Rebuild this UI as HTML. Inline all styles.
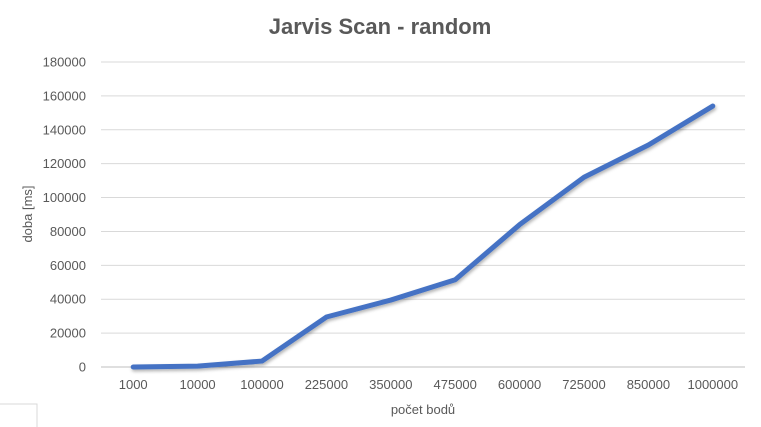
<!DOCTYPE html>
<html><head><meta charset="utf-8"><style>
html,body{margin:0;padding:0;background:#fff;width:761px;height:427px;overflow:hidden;font-family:"Liberation Sans",sans-serif;}
</style></head><body>
<svg id="chart" width="761" height="427" xmlns="http://www.w3.org/2000/svg">
<defs><filter id="sh" x="-5%" y="-5%" width="110%" height="120%"><feDropShadow dx="1" dy="2" stdDeviation="1.5" flood-color="#000" flood-opacity="0.3"/></filter></defs>
<text x="380" y="34" text-anchor="middle" font-size="22" font-weight="bold" fill="#595959">Jarvis Scan - random</text>
<text transform="translate(32,214) rotate(-90)" text-anchor="middle" font-size="13" fill="#595959">doba [ms]</text>
<text x="423" y="414" text-anchor="middle" font-size="13" fill="#595959">počet bodů</text>
<rect x="-1" y="404" width="38" height="30" fill="none" stroke="#d9d9d9"/>
<g id="grid"></g><g id="ylabels"></g><g id="xlabels"></g><g id="series"></g>
</svg>
<script>
const categories=["1000","10000","100000","225000","350000","475000","600000","725000","850000","1000000"];
const values=[0,500,3500,29500,39500,51500,84000,112000,131000,154000];
const yTicks=[0,20000,40000,60000,80000,100000,120000,140000,160000,180000];
const X0=101,X1=745,Y0=367,Y1=62,YMAX=180000;
const ns="http://www.w3.org/2000/svg";
const bw=(X1-X0)/categories.length;
function xS(i){return X0+bw*(i+0.5);}
function yS(v){return Y0-(v/YMAX)*(Y0-Y1);}
const g=document.getElementById('grid'),yl=document.getElementById('ylabels'),xl=document.getElementById('xlabels'),s=document.getElementById('series');
yTicks.forEach(t=>{
 const l=document.createElementNS(ns,'line');
 
 
 l.setAttribute('x1',X0);l.setAttribute('x2',X1);l.setAttribute('y1',yS(t));l.setAttribute('y2',yS(t));
 l.setAttribute('stroke',t===0?'#bfbfbf':'#d9d9d9');l.setAttribute('stroke-width','1');
 g.appendChild(l);
 const tx=document.createElementNS(ns,'text');
 
 
 tx.setAttribute('x',86);tx.setAttribute('y',yS(t)+4.5);tx.setAttribute('text-anchor','end');
 tx.setAttribute('font-size','13');tx.setAttribute('fill','#595959');tx.textContent=t;
 yl.appendChild(tx);
});
categories.forEach((c,i)=>{
 const tx=document.createElementNS(ns,'text');
 
 
 tx.setAttribute('x',xS(i));tx.setAttribute('y',389);tx.setAttribute('text-anchor','middle');
 tx.setAttribute('font-size','13');tx.setAttribute('fill','#595959');tx.textContent=c;
 xl.appendChild(tx);
});
const p=document.createElementNS(ns,'polyline');


p.setAttribute('points',values.map((v,i)=>xS(i)+','+yS(v)).join(' '));
p.setAttribute('fill','none');p.setAttribute('stroke','#4472c4');p.setAttribute('stroke-width','5');
p.setAttribute('stroke-linejoin','round');p.setAttribute('stroke-linecap','round');p.setAttribute('filter','url(#sh)');
s.appendChild(p);
</script>
</body></html>
